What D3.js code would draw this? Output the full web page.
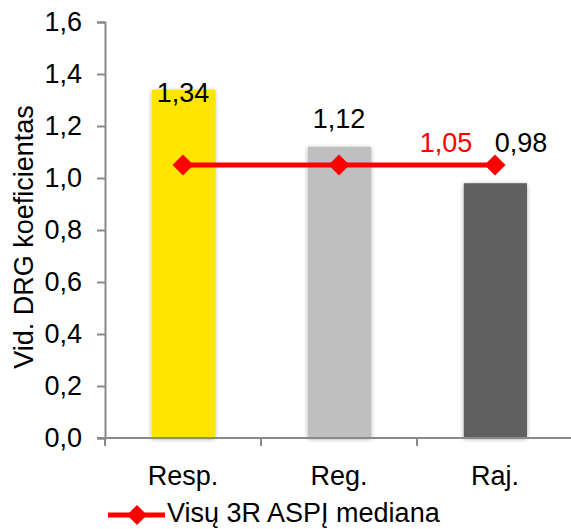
<!DOCTYPE html>
<html><head><meta charset="utf-8">
<script src="https://cdn.jsdelivr.net/npm/d3@7"></script>
<style>body{margin:0;background:#fff}svg{display:block}text{font-family:"Liberation Sans",Arial,sans-serif}</style>
</head><body><svg id="c" width="571" height="529"></svg>
<script>
const categories = ["Resp.", "Reg.", "Raj."];
const values = [1.34, 1.12, 0.98];
const barColors = ["#FFE500", "#BFBFBF", "#616161"];
const medianValues = [1.05, 1.05, 1.05];
const yTicks = [0, 0.2, 0.4, 0.6, 0.8, 1.0, 1.2, 1.4, 1.6];
const yTitle = "Vid. DRG koeficientas";
const legendLabel = "Visų 3R ASPĮ mediana";

const fmt = v => d3.format(".2f")(v).replace(".", ",");
const fmt1 = v => d3.format(".1f")(v).replace(".", ",");
const FS = 27;
const svg = d3.select("#c");
const defs = svg.append("defs");
const f = defs.append("filter").attr("id","sh").attr("x","-20%").attr("y","-20%").attr("width","140%").attr("height","140%");
f.append("feDropShadow").attr("dx",0).attr("dy",1).attr("stdDeviation",2).attr("flood-color","#000").attr("flood-opacity",0.35);

const x = d3.scaleBand().domain(categories).range([105, 573]).padding(0);
const y = d3.scaleLinear().domain([0, 1.6]).range([438, 22]);
const axisColor = "#8a8a8a";

// bars
const bw = x.bandwidth();
svg.append("g").selectAll("rect").data(categories).join("rect")
  .attr("x", d => x(d) + bw * 0.3)
  .attr("width", bw * 0.405)
  .attr("y", (d, i) => y(values[i]))
  .attr("height", (d, i) => y(0) - y(values[i]))
  .attr("fill", (d, i) => barColors[i])
  .attr("filter", "url(#sh)");

// y axis
const ya = svg.append("g").attr("transform", "translate(105,0)")
  .call(d3.axisLeft(y).tickValues(yTicks).tickSize(8).tickPadding(15).tickFormat(fmt1));
ya.select(".domain").attr("stroke", axisColor).attr("stroke-width", 2);
ya.selectAll(".tick line").attr("stroke", axisColor).attr("stroke-width", 2);
ya.selectAll(".tick text").attr("font-size", FS).attr("fill", "#000").style("font-family", '"Liberation Sans",Arial,sans-serif');

// x axis
const xa = svg.append("g").attr("transform", "translate(0,438)")
  .call(d3.axisBottom(x).tickSize(0).tickPadding(28));
xa.select(".domain").remove();
xa.selectAll(".tick text").attr("font-size", FS).attr("fill", "#000").style("font-family", '"Liberation Sans",Arial,sans-serif');
svg.append("line").attr("x1", 97).attr("x2", 571).attr("y1", 438).attr("y2", 438).attr("stroke", axisColor).attr("stroke-width", 2);
const bounds = categories.map(c => x(c)).concat([x(categories[categories.length-1]) + bw]);
svg.append("g").selectAll("line").data(bounds).join("line")
  .attr("x1", d => d).attr("x2", d => d).attr("y1", 438).attr("y2", 446)
  .attr("stroke", axisColor).attr("stroke-width", 2);

// y title
svg.append("text").attr("transform", "translate(33,237) rotate(-90)").attr("text-anchor", "middle")
  .attr("font-size", FS).attr("fill", "#000").text(yTitle);

// median line
const cx = d => x(d) + bw / 2;
const line = d3.line().x((d, i) => cx(categories[i])).y(d => y(d));
svg.append("path").datum(medianValues).attr("d", line).attr("fill", "none").attr("stroke", "#FF0000").attr("stroke-width", 5);
const diamond = s => `M0,${-s}L${s},0L0,${s}L${-s},0Z`;
svg.append("g").selectAll("path").data(medianValues).join("path")
  .attr("transform", (d, i) => `translate(${cx(categories[i])},${y(d)})`)
  .attr("d", diamond(10.5)).attr("fill", "#FF0000");

// data labels
const barLabelOffset = [{dx: 0, dy: 12}, {dx: 0, dy: -19}, {dx: 26, dy: -31}];
svg.append("g").selectAll("text").data(values).join("text")
  .attr("x", (d, i) => cx(categories[i]) + barLabelOffset[i].dx)
  .attr("y", (d, i) => y(d) + barLabelOffset[i].dy)
  .attr("text-anchor", "middle").attr("font-size", FS).attr("fill", "#000").text(d => fmt(d));
const mi = medianValues.length - 1;
svg.append("text").attr("x", cx(categories[mi]) - 49).attr("y", y(medianValues[mi]) - 13)
  .attr("text-anchor", "middle").attr("font-size", FS).attr("fill", "#FF0000").text(fmt(medianValues[mi]));

// legend
const lg = svg.append("g").attr("transform", "translate(108,515)");
lg.append("line").attr("x1", 0).attr("x2", 57).attr("y1", 0).attr("y2", 0).attr("stroke", "#FF0000").attr("stroke-width", 5);
lg.append("path").attr("transform", "translate(29,0)").attr("d", diamond(10)).attr("fill", "#FF0000");
lg.append("text").attr("x", 59).attr("y", 6.5).attr("font-size", FS).attr("fill", "#000").text(legendLabel);
</script></body></html>
